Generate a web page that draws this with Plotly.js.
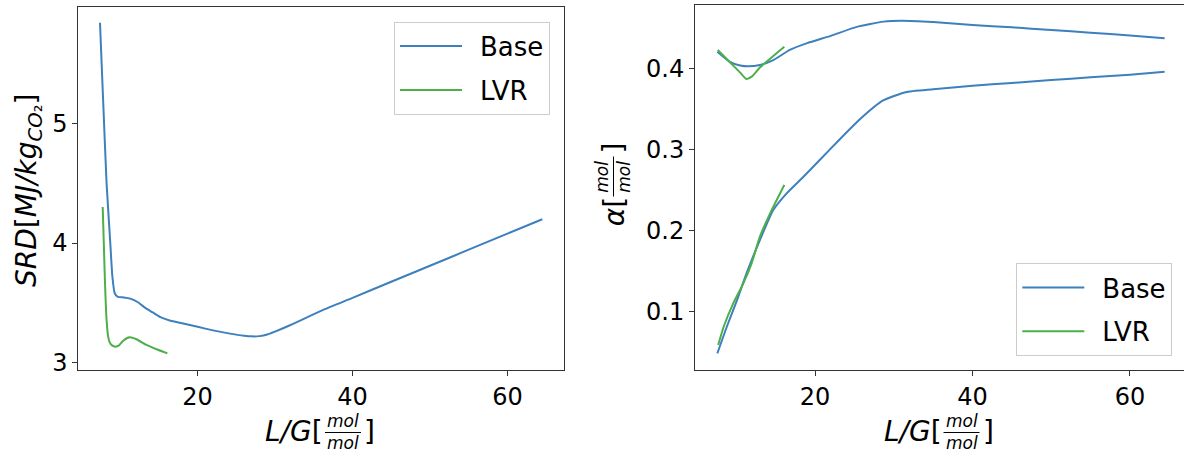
<!DOCTYPE html>
<html>
<head>
<meta charset="utf-8">
<script src="https://cdn.plot.ly/plotly-3.0.1.min.js"></script>
<style>
  html, body { margin: 0; padding: 0; overflow: hidden; background: #fff; }
  #chart { width: 1200px; height: 454px; }
</style>
</head>
<body>
<div id="chart"></div>
<script>
// L/G sweep: specific reboiler duty (left panel) and CO2 loadings (right panel)

// Left panel: SRD [MJ/kg CO2] versus L/G
const lgBaseSrd = [7.4, 7.8, 8.25, 8.7, 9.0, 9.3, 9.7, 10.5, 11.3, 12.3, 13.2, 14.2, 15.2, 16.5, 18, 20, 22, 24, 26, 27, 28, 29, 30, 32, 36, 40, 45, 50, 55, 60, 64.5];
const srdBase   = [5.84, 5.2, 4.5, 4.03, 3.72, 3.58, 3.55, 3.545, 3.535, 3.505, 3.46, 3.42, 3.38, 3.35, 3.33, 3.30, 3.27, 3.245, 3.225, 3.22, 3.222, 3.235, 3.26, 3.315, 3.435, 3.542, 3.676, 3.81, 3.944, 4.078, 4.198];
const lgLvrSrd  = [7.75, 7.9, 8.05, 8.25, 8.45, 8.65, 8.95, 9.4, 9.8, 10.4, 11.2, 12.1, 13.4, 14.7, 16.1];
const srdLvr    = [4.30, 3.98, 3.66, 3.36, 3.22, 3.17, 3.145, 3.134, 3.142, 3.184, 3.212, 3.196, 3.148, 3.112, 3.078];

// Right panel: rich loading (upper curves) and lean loading (lower curves)
const lgBaseRich    = [7.6, 9.2, 10.5, 11.5, 13.0, 14.7, 16.8, 19, 22, 25.3, 28.7, 31, 35, 40, 45, 50, 55, 60, 64.4];
const alphaBaseRich = [0.4205, 0.408, 0.4035, 0.4025, 0.404, 0.410, 0.4226, 0.431, 0.440, 0.451, 0.4575, 0.4587, 0.457, 0.4534, 0.4505, 0.4472, 0.4438, 0.4405, 0.437];
const lgBaseLean    = [7.6, 8.8, 10.1, 11.3, 13.0, 14.7, 16.4, 18.5, 20.6, 23, 25.8, 28.6, 31.5, 35, 40, 45, 50, 55, 60, 64.4];
const alphaBaseLean = [0.0486, 0.0814, 0.1143, 0.1472, 0.1883, 0.2253, 0.2459, 0.266, 0.287, 0.311, 0.338, 0.36, 0.3705, 0.374, 0.3785, 0.3818, 0.3855, 0.3888, 0.392, 0.3958];
const lgLvrRich     = [7.65, 9.2, 10.5, 11.3, 12.0, 13.0, 14.7, 16.1];
const alphaLvrRich  = [0.4226, 0.4074, 0.3947, 0.3868, 0.390, 0.401, 0.415, 0.4266];
const lgLvrLean     = [7.7, 8.4, 9.6, 10.9, 11.95, 13.0, 14.3, 16.1];
const alphaLvrLean  = [0.0588, 0.0814, 0.110, 0.1349, 0.1596, 0.1924, 0.2212, 0.2561];

const seriesNames = ['Base', 'LVR'];
const lgTicks = [20, 40, 60];
const srdTicks = [3, 4, 5];
const alphaTicks = [0.1, 0.2, 0.3, 0.4];

const BLUE = '#3d80bd';
const GREEN = '#4daf4a';
const FONT = 'DejaVu Sans, sans-serif';

const W = 1200, H = 454;
const fx = p => p / W;
const fy = p => 1 - p / H;

const line = (color) => ({ color: color, width: 2, shape: 'spline', smoothing: 0.5 });
// a little space between the legend sample line and its label
const label = (name) => '\u2002' + name;

const traces = [
  { x: lgBaseSrd, y: srdBase, name: label(seriesNames[0]), mode: 'lines', line: line(BLUE), xaxis: 'x', yaxis: 'y', legend: 'legend', legendgroup: 'b1' },
  { x: lgLvrSrd, y: srdLvr, name: label(seriesNames[1]), mode: 'lines', line: line(GREEN), xaxis: 'x', yaxis: 'y', legend: 'legend', legendgroup: 'l1' },
  { x: lgBaseRich, y: alphaBaseRich, name: label(seriesNames[0]), mode: 'lines', line: line(BLUE), xaxis: 'x2', yaxis: 'y2', legend: 'legend2', legendgroup: 'b2' },
  { x: lgBaseLean, y: alphaBaseLean, name: label(seriesNames[0]), mode: 'lines', line: line(BLUE), xaxis: 'x2', yaxis: 'y2', legend: 'legend2', legendgroup: 'b2', showlegend: false },
  { x: lgLvrRich, y: alphaLvrRich, name: label(seriesNames[1]), mode: 'lines', line: line(GREEN), xaxis: 'x2', yaxis: 'y2', legend: 'legend2', legendgroup: 'l2' },
  { x: lgLvrLean, y: alphaLvrLean, name: label(seriesNames[1]), mode: 'lines', line: line(GREEN), xaxis: 'x2', yaxis: 'y2', legend: 'legend2', legendgroup: 'l2', showlegend: false }
];

const axisStyle = {
  showline: true, mirror: true, linecolor: '#333', linewidth: 1,
  ticks: 'outside', ticklen: 5, tickwidth: 1, tickcolor: '#333',
  showgrid: false, zeroline: false,
  tickfont: { family: FONT, size: 24, color: '#000' },
  fixedrange: true
};

const legendStyle = {
  bgcolor: 'rgba(255,255,255,0.8)', bordercolor: '#cccccc', borderwidth: 1,
  font: { family: FONT, size: 26, color: '#000' },
  itemwidth: 62, tracegroupgap: 7
};

// Axis titles built from pieces so the fraction can be stacked
const ann = (text, x, y, opts) => Object.assign({
  text: text, x: fx(x), y: fy(y), xref: 'paper', yref: 'paper',
  showarrow: false, font: { family: FONT, size: 28, color: '#000' },
  xanchor: 'center', yanchor: 'middle', borderpad: 0
}, opts || {});
const small = { family: FONT, size: 17, color: '#000' };
const FRACTION = '<i>mol</i><br><i>mol</i>';

function lgTitle(dx) {
  return [
    ann('<i>L/G</i>[', 324 + dx, 431.5, { xanchor: 'right' }),
    ann(FRACTION, 343 + dx, 431.5, { font: small }),
    ann(']', 363 + dx, 431.5, { xanchor: 'left' })
  ];
}
function lgBar(dx) {
  return { type: 'line', xref: 'paper', yref: 'paper', x0: fx(325 + dx), x1: fx(361 + dx), y0: fy(432.5), y1: fy(432.5), line: { color: '#000', width: 1 } };
}

const annotations = [].concat(
  lgTitle(0),
  lgTitle(618.5),
  [
    ann('<i>SRD</i>[<i>MJ/kg</i><sub><i>CO</i>₂</sub>]', 28, 191, { textangle: -90 }),
    ann(']', 613, 155, { textangle: -90, yanchor: 'bottom' }),
    ann('<i>α</i>[', 614, 196.7, { textangle: -90, yanchor: 'top' }),
    ann(FRACTION, 613, 176.7, { textangle: -90, font: small })
  ]
);

const shapes = [
  lgBar(0),
  lgBar(618.5),
  { type: 'line', xref: 'paper', yref: 'paper', x0: fx(613.5), x1: fx(613.5), y0: fy(156.5), y1: fy(196.5), line: { color: '#000', width: 1 } }
];

const layout = {
  width: W, height: H,
  margin: { l: 0, r: 0, t: 0, b: 0 },
  paper_bgcolor: '#fff', plot_bgcolor: '#fff',
  font: { family: FONT },
  xaxis: Object.assign({}, axisStyle, { domain: [fx(78.3), fx(564)], range: [4.6, 67.3], tickvals: lgTicks, anchor: 'y' }),
  yaxis: Object.assign({}, axisStyle, { domain: [fy(370), fy(7.3)], range: [2.939, 5.969], tickvals: srdTicks, anchor: 'x' }),
  xaxis2: Object.assign({}, axisStyle, { domain: [fx(695), fx(1187)], range: [4.76, 67.24], tickvals: lgTicks, anchor: 'y2' }),
  yaxis2: Object.assign({}, axisStyle, { domain: [fy(370), fy(5)], range: [0.0281, 0.478], tickvals: alphaTicks, tickformat: '.1f', anchor: 'x2' }),
  legend: Object.assign({}, legendStyle, { x: fx(550), xanchor: 'right', y: fy(21.7), yanchor: 'top' }),
  legend2: Object.assign({}, legendStyle, { x: fx(1172.3), xanchor: 'right', y: fy(356), yanchor: 'bottom' }),
  annotations: annotations,
  shapes: shapes,
  showlegend: true
};

Plotly.newPlot('chart', traces, layout, { staticPlot: true, displayModeBar: false });
</script>
</body>
</html>
